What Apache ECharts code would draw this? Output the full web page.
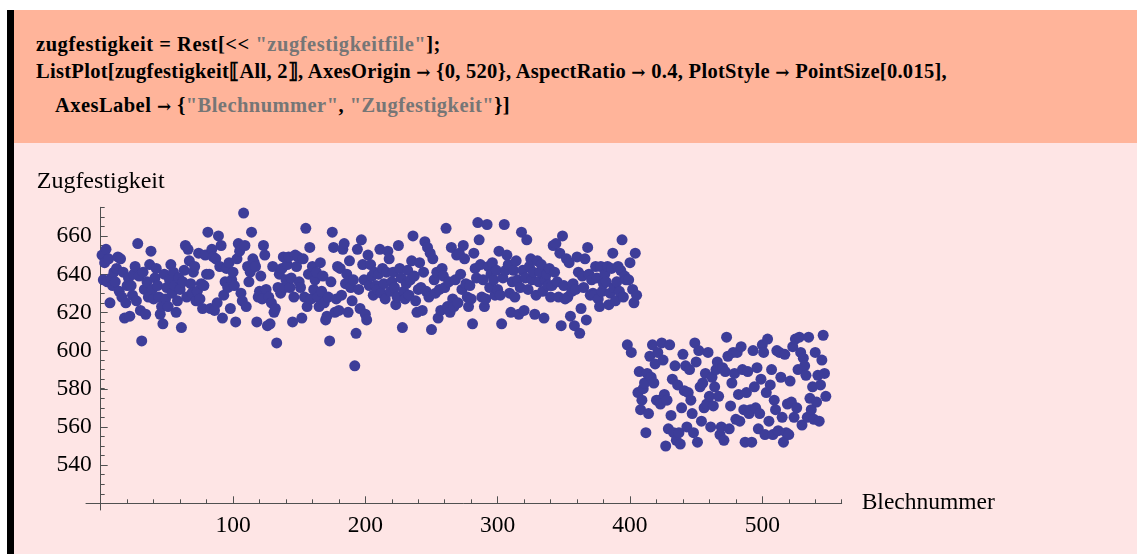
<!DOCTYPE html>
<html>
<head>
<meta charset="utf-8">
<script src="https://cdn.jsdelivr.net/npm/echarts@6/dist/echarts.min.js"></script>
<style>
html,body{margin:0;padding:0;width:1137px;height:554px;overflow:hidden;background:#ffffff;}
#hdr{position:absolute;left:14px;top:10px;width:1123px;height:133px;background:#FFB49A;}
#low{position:absolute;left:14px;top:143px;width:1123px;height:411px;background:#FEE5E5;}
#bar{position:absolute;left:7px;top:10px;width:7px;height:544px;background:#000;}
.code{position:absolute;font-family:"Liberation Serif","Times New Roman",serif;font-weight:bold;font-size:20.5px;line-height:20.5px;color:#000;white-space:pre;}
.s{color:#767676;}
.ar{font-family:"DejaVu Serif",serif;font-weight:bold;font-size:17px;}
#chart{position:absolute;left:0;top:0;width:1137px;height:554px;}
</style>
</head>
<body>
<div id="hdr"></div>
<div id="low"></div>
<div id="bar"></div>
<div class="code" data-w="405" style="left:36px;top:33.5px;">zugfestigkeit = Rest[&lt;&lt; <span class="s">"zugfestigkeitfile"</span>];</div>
<div class="code" data-w="911" style="left:36px;top:61px;">ListPlot[zugfestigkeit⟦All, 2⟧, AxesOrigin <span class="ar">→</span> {0, 520}, AspectRatio <span class="ar">→</span> 0.4, PlotStyle <span class="ar">→</span> PointSize[0.015],</div>
<div class="code" data-w="455" style="left:55px;top:94.5px;">AxesLabel <span class="ar">→</span> {<span class="s">"Blechnummer"</span>, <span class="s">"Zugfestigkeit"</span>}]</div>
<div id="chart"></div>
<script>
// Zugfestigkeit per Blechnummer (index 1..548)
const werte001bis100 = [
  650, 637, 646, 653, 636, 648, 625, 638, 634, 641,
  636, 643, 649, 631, 648, 628, 641, 617, 625, 634,
  638, 618, 634, 629, 640, 644, 626, 656, 639, 621,
  605, 641, 632, 619, 636, 628, 645, 652, 632, 627,
  638, 643, 634, 628, 619, 623, 614, 640, 627, 633,
  623, 637, 645, 630, 641, 634, 620, 626, 638, 632,
  612, 636, 642, 655, 628, 653, 647, 635, 630, 641,
  644, 626, 631, 651, 627, 635, 622, 634, 650, 640,
  662, 640, 622, 653, 649, 621, 648, 625, 660, 644,
  655, 617, 629, 636, 643, 633, 646, 622, 637, 641
];
const werte101bis200 = [
  634, 615, 648, 656, 652, 630, 626, 672, 655, 623,
  644, 636, 641, 662, 648, 646, 644, 615, 628, 631,
  639, 627, 655, 650, 632, 613, 628, 614, 625, 644,
  620, 622, 604, 633, 640, 630, 643, 649, 633, 637,
  645, 649, 633, 638, 615, 628, 650, 644, 649, 636,
  633, 617, 648, 628, 664, 623, 640, 654, 627, 644,
  632, 637, 641, 628, 623, 646, 631, 639, 625, 616,
  618, 628, 605, 636, 662, 654, 620, 627, 644, 621,
  643, 629, 653, 656, 635, 640, 620, 647, 633, 626,
  637, 592, 609, 653, 632, 622, 658, 645, 637, 619
];
const werte201bis300 = [
  616, 650, 634, 645, 639, 629, 641, 634, 632, 640,
  653, 630, 643, 635, 627, 641, 652, 648, 631, 636,
  641, 633, 624, 628, 655, 643, 638, 612, 631, 627,
  635, 642, 629, 637, 647, 660, 639, 626, 620, 632,
  646, 633, 621, 641, 657, 631, 654, 628, 651, 611,
  648, 637, 630, 641, 617, 632, 621, 643, 639, 633,
  664, 623, 636, 620, 654, 627, 623, 637, 650, 625,
  651, 640, 632, 655, 648, 635, 628, 623, 634, 627,
  614, 651, 643, 638, 667, 658, 645, 628, 637, 623,
  627, 666, 644, 633, 640, 646, 637, 629, 642, 632
];
const werte301bis400 = [
  652, 629, 614, 638, 666, 642, 650, 645, 630, 620,
  636, 642, 628, 647, 637, 619, 633, 662, 642, 621,
  638, 658, 632, 644, 648, 637, 641, 619, 629, 647,
  636, 641, 645, 631, 617, 637, 640, 634, 643, 628,
  634, 655, 641, 656, 636, 628, 651, 613, 660, 634,
  627, 648, 628, 646, 618, 631, 635, 613, 632, 649,
  641, 609, 622, 639, 633, 648, 616, 654, 640, 629,
  637, 630, 629, 644, 638, 627, 623, 644, 631, 635,
  640, 636, 644, 624, 630, 643, 651, 633, 626, 636,
  644, 631, 642, 658, 628, 639, 637, 603, 637, 646
];
const werte401bis500 = [
  599, 632, 625, 651, 629, 578, 589, 569, 574, 580,
  583, 557, 588, 567, 597, 586, 603, 583, 593, 574,
  599, 574, 572, 604, 595, 577, 550, 574, 559, 603,
  566, 585, 557, 592, 553, 582, 557, 551, 570, 598,
  579, 592, 560, 578, 590, 574, 567, 557, 604, 594,
  552, 600, 581, 563, 583, 570, 588, 572, 599, 576,
  560, 586, 571, 581, 590, 594, 576, 556, 560, 591,
  553, 589, 607, 597, 559, 571, 583, 599, 588, 564,
  599, 577, 563, 602, 590, 569, 552, 578, 589, 567,
  569, 552, 600, 581, 570, 591, 559, 567, 585, 603
];
const werte501bis548 = [
  599, 556, 578, 606, 563, 582, 590, 556, 574, 569,
  600, 558, 599, 586, 565, 552, 598, 557, 572, 556,
  584, 573, 602, 565, 606, 570, 590, 607, 599, 561,
  596, 592, 587, 565, 607, 575, 569, 581, 564, 599,
  573, 587, 563, 582, 595, 608, 588, 576
];
const xTickLabels = [100, 200, 300, 400, 500];
const yTickLabels = [540, 560, 580, 600, 620, 640, 660];
const xAxisTitle = 'Blechnummer';
const yAxisTitle = 'Zugfestigkeit';

// fit the header code lines to the widths seen in the reference
document.querySelectorAll('.code').forEach(el => {
  const target = parseFloat(el.dataset.w);
  const w = el.getBoundingClientRect().width;
  const n = el.textContent.length;
  el.style.letterSpacing = ((target - w) / n).toFixed(3) + 'px';
});

const zugfestigkeit = [].concat(werte001bis100, werte101bis200, werte201bis300,
  werte301bis400, werte401bis500, werte501bis548);
const punkte = zugfestigkeit.map((v, i) => [i + 1, v]);

const FONT = '"Liberation Serif", "Times New Roman", serif';
const AX = '#505050';
const hidden = {axisLine:{show:false}, axisTick:{show:false}, axisLabel:{show:false}, splitLine:{show:false}};

const chart = echarts.init(document.getElementById('chart'), null, {renderer:'canvas'});
chart.setOption({
  animation: false,
  grid: [
    {left:100.7, top:207.3, width:741, height:296},     // data + minor ticks
    {left:100.7, top:236.2, width:661.6, height:267.1}, // major ticks + labels
    {left:86, top:207.3, width:755.7, height:296},      // x axis line
    {left:100.7, top:207.3, width:741, height:302.7}    // y axis line
  ],
  xAxis: [
    {gridIndex:0, type:'value', min:0, max:560, interval:20,
     axisLine:{show:false}, splitLine:{show:false}, axisLabel:{show:false},
     axisTick:{show:true, inside:true, length:4, lineStyle:{color:AX, width:1}}},
    {gridIndex:1, type:'value', min:0, max:500, interval:100,
     axisLine:{show:false}, splitLine:{show:false},
     axisTick:{show:true, inside:true, length:7, lineStyle:{color:AX, width:1}},
     axisLabel:{show:true, margin:11, color:'#000', fontFamily:FONT, fontSize:23.5,
       formatter: v => xTickLabels.includes(v) ? String(v) : ''}},
    Object.assign({gridIndex:2, type:'value', min:-11, max:560}, hidden, {
     axisLine:{show:true, onZero:false, lineStyle:{color:AX, width:1}},
     name:xAxisTitle, nameLocation:'end', nameGap:20,
     nameTextStyle:{color:'#000', fontFamily:FONT, fontSize:23.5, verticalAlign:'middle'}}),
    Object.assign({gridIndex:3, type:'value', min:0, max:560}, hidden)
  ],
  yAxis: [
    {gridIndex:0, type:'value', min:520, max:675, interval:5,
     axisLine:{show:false}, splitLine:{show:false}, axisLabel:{show:false},
     axisTick:{show:true, inside:true, length:4, lineStyle:{color:AX, width:1}}},
    {gridIndex:1, type:'value', min:520, max:660, interval:20,
     axisLine:{show:false}, splitLine:{show:false},
     axisTick:{show:true, inside:true, length:7, lineStyle:{color:AX, width:1}},
     axisLabel:{show:true, margin:9, color:'#000', fontFamily:FONT, fontSize:23.5,
       formatter: v => yTickLabels.includes(v) ? String(v) : ''}},
    Object.assign({gridIndex:2, type:'value', min:520, max:675}, hidden),
    Object.assign({gridIndex:3, type:'value', min:516, max:675}, hidden, {
     axisLine:{show:true, onZero:false, lineStyle:{color:AX, width:1}},
     name:yAxisTitle, nameLocation:'end', nameGap:14,
     nameTextStyle:{color:'#000', fontFamily:FONT, fontSize:24}})
  ],
  series: [{
    type:'scatter', xAxisIndex:0, yAxisIndex:0,
    data: punkte, symbol:'circle', symbolSize:11,
    itemStyle:{color:'#3D3D99', opacity:1}
  }]
});
</script>
</body>
</html>
